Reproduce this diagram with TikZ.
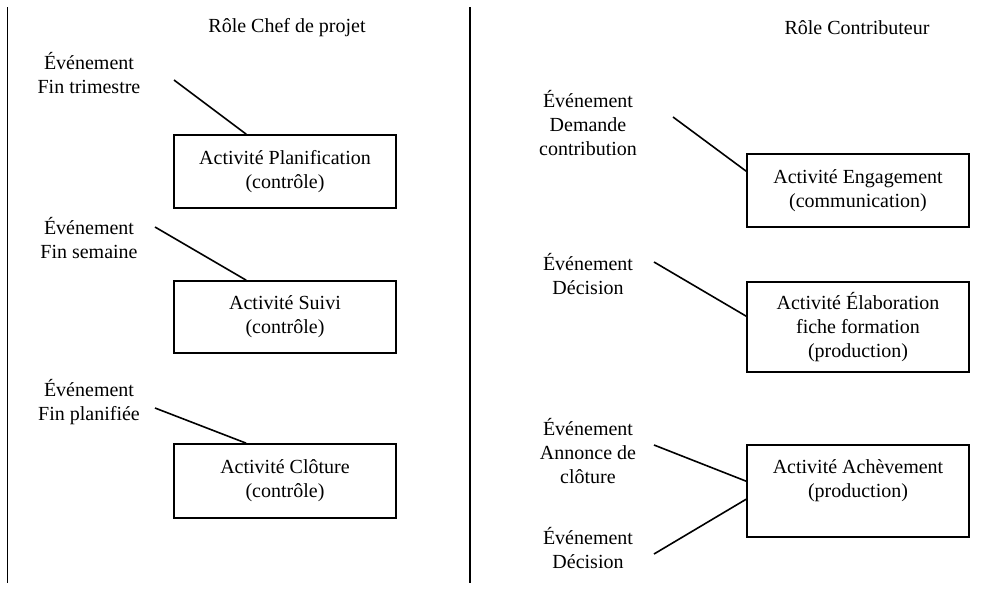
\documentclass[tikz,border=0pt]{standalone}
\usepackage{fontspec}
\setmainfont{Liberation Serif}
\begin{document}
\begin{tikzpicture}[x=1pt,y=-1pt,
  every node/.style={font=\fontsize{20}{24}\selectfont, align=center, inner sep=0pt},
  box/.style={draw, line width=1.6pt, minimum width=222pt},
  link/.style={line width=1.6pt},
  lane/.style={line width=1.6pt}]
\useasboundingbox (0,0) rectangle (984,589);
% swimlane separators
\coordinate (l1t) at (7.5,7);  \coordinate (l1b) at (7.5,583);
\coordinate (l2t) at (470,7);  \coordinate (l2b) at (470,583);
\draw[lane] (l1t) -- (l1b);
\draw[lane] (l2t) -- (l2b);
% titles
\node (t1) at (287,28) {Rôle Chef de projet};
\node (t2) at (857,28) {Rôle Contributeur};
% left lane
\node[box, minimum height=73pt] (b1) at (285,171.5) {Activité Planification\\(contrôle)};
\node[box, minimum height=72pt] (b2) at (285,317) {Activité Suivi\\(contrôle)};
\node[box, minimum height=74pt] (b3) at (285,481) {Activité Clôture\\(contrôle)};
\node (e1) at (89,73) {Événement\\Fin trimestre};
\node (e2) at (89,238) {Événement\\Fin semaine};
\node (e3) at (89,402) {Événement\\Fin planifiée};
% right lane
\node[box, minimum height=73pt] (b4) at (858,190.5) {Activité Engagement\\(communication)};
\node[box, minimum height=90pt] (b5) at (858,327) {Activité Élaboration\\fiche formation\\(production)};
\node[box, minimum height=92pt] (b6) at (858,491) {Activité Achèvement\\(production)\\\mbox{}};
\node (e4) at (588,123) {Événement\\Demande\\contribution};
\node (e5) at (588,274) {Événement\\Décision};
\node (e6) at (588,451) {Événement\\Annonce de\\clôture};
\node (e7) at (588,548) {Événement\\Décision};
% connector start points
\coordinate (s1) at (174,80);
\coordinate (s2) at (155,227);
\coordinate (s3) at (155,408);
\coordinate (s4) at (673,117);
\coordinate (s5) at (654,262);
\coordinate (s6) at (654,445);
\coordinate (s7) at (654,554);
\draw[link] (s1) -- ([xshift=73pt]b1.north west);
\draw[link] (s2) -- ([xshift=73pt]b2.north west);
\draw[link] (s3) -- ([xshift=73pt]b3.north west);
\draw[link] (s4) -- ([yshift=-18pt]b4.north west);
\draw[link] (s5) -- ([yshift=-35pt]b5.north west);
\draw[link] (s6) -- ([yshift=-37pt]b6.north west);
\draw[link] (s7) -- ([yshift=-55pt]b6.north west);
\end{tikzpicture}
\end{document}
